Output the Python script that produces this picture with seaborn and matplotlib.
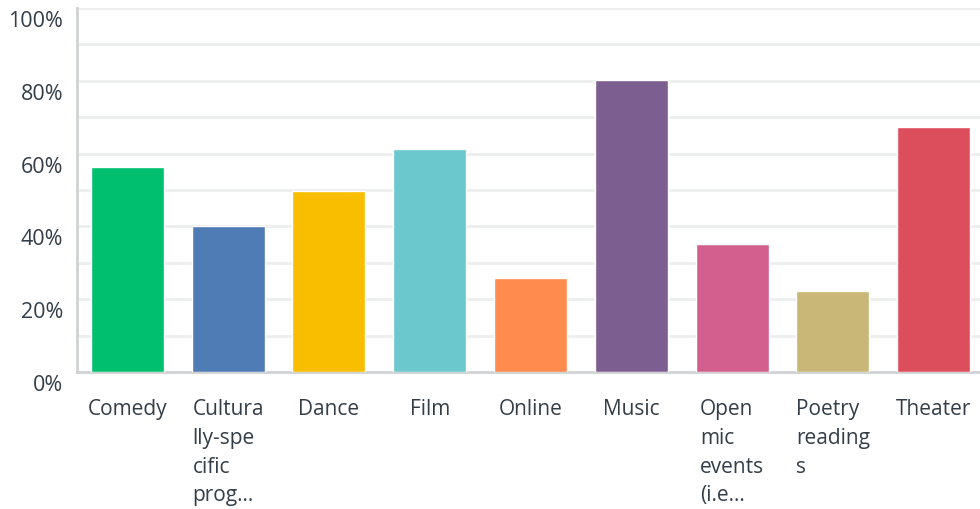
import matplotlib
matplotlib.use("Agg")
import matplotlib.pyplot as plt
import matplotlib.transforms as mtransforms
import seaborn as sns
import pandas as pd

categories = ["Comedy", "Culturally-specific programming", "Dance", "Film", "Online",
              "Music", "Open mic events (i.e...)", "Poetry readings", "Theater"]
tick_labels = ["Comedy", "Cultura\nlly-spe\ncific\nprog...", "Dance", "Film", "Online",
               "Music", "Open\nmic\nevents\n(i.e...", "Poetry\nreading\ns", "Theater"]
values = [56.4, 40.2, 49.8, 61.4, 25.9, 80.3, 35.2, 22.3, 67.4]
colors = ["#00BF6F", "#507CB6", "#F9BE00", "#6BC8CD", "#FF8B4F",
          "#7D5E90", "#D25F8E", "#C8B777", "#DC4E5B"]
y_ticks = [0, 20, 40, 60, 80, 100]
y_tick_labels = ["0%", "20%", "40%", "60%", "80%", "100%"]

sns.set_theme(style="white")
plt.rcParams["font.family"] = ["Open Sans", "DejaVu Sans"]
text_color = "#333E48"

df = pd.DataFrame({"category": categories, "value": values})

fig = plt.figure(figsize=(9.8, 5.1), dpi=100)
ax = fig.add_axes([77 / 980, 137 / 510, 907 / 980, 364 / 510])

sns.barplot(data=df, x="category", y="value", hue="category", palette=colors,
            width=0.725, legend=False, ax=ax, saturation=1, zorder=3)

ax.set_ylim(0, 100)
ax.set_xlim(-0.5, len(categories) - 0.5)
for y in range(10, 101, 10):
    ax.axhline(y, color="#EDEEEE", lw=2, zorder=1)
ax.set_yticks(y_ticks)
ax.set_yticklabels(y_tick_labels, fontsize=15.5, color=text_color)
ax.set_xticks(range(len(categories)))
ax.set_xticklabels(tick_labels, fontsize=15, color=text_color,
                   ha="center", va="top", multialignment="left", linespacing=1.48)
ax.tick_params(axis="x", length=0, pad=19)
ax.tick_params(axis="y", length=0, pad=10)
ax.set_xlabel("")
ax.set_ylabel("")

offset = mtransforms.ScaledTranslation(0, -10 / 100, fig.dpi_scale_trans)
for lab in ax.get_yticklabels():
    lab.set_transform(lab.get_transform() + offset)

for side in ["top", "right"]:
    ax.spines[side].set_visible(False)
for side in ["left", "bottom"]:
    ax.spines[side].set_color("#D0D2D3")
    ax.spines[side].set_linewidth(2)

fig.savefig("out.png", dpi=100, facecolor="white")
